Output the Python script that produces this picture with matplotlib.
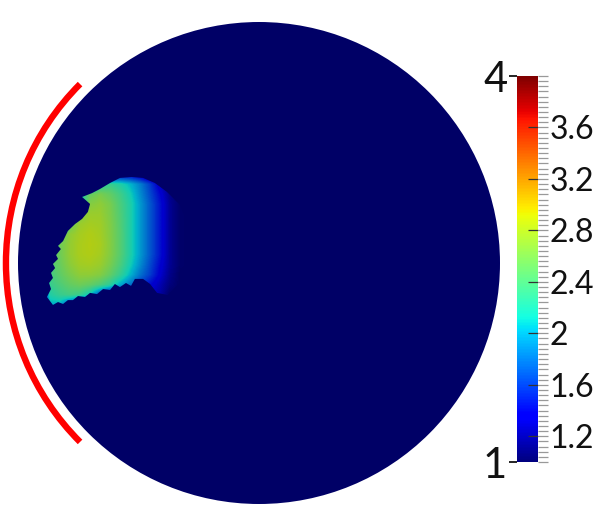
import numpy as np
import matplotlib
matplotlib.use("Agg")
import matplotlib.pyplot as plt
from matplotlib.patches import Circle, Arc, Polygon
from matplotlib.colors import Normalize, ListedColormap
from matplotlib.colorbar import ColorbarBase

plt.rcParams['font.family'] = ['Lato', 'DejaVu Sans']

# scalar range of the field
vmin, vmax = 1.0, 4.0

# outline of the raised region, in disk coordinates (disk radius = 1)
blob_x = [-0.734, -0.693, -0.660, -0.618, -0.577, -0.527, -0.481, -0.432, -0.382,
          -0.328, -0.286, -0.286, -0.320, -0.378,
          -0.423, -0.452, -0.481, -0.515, -0.531, -0.552, -0.577, -0.598, -0.618,
          -0.647, -0.672, -0.701, -0.722, -0.751, -0.772, -0.793, -0.813, -0.834,
          -0.855, -0.880, -0.863, -0.871, -0.855, -0.863, -0.846, -0.855, -0.834,
          -0.842, -0.822, -0.834, -0.813, -0.793, -0.763, -0.734, -0.710, -0.701]
blob_y = [0.274, 0.290, 0.307, 0.332, 0.353, 0.357, 0.353, 0.332, 0.295,
          0.241, 0.137, 0.012, -0.071, -0.133,
          -0.124, -0.087, -0.066, -0.066, -0.095, -0.083, -0.100, -0.087, -0.112,
          -0.108, -0.129, -0.124, -0.141, -0.137, -0.154, -0.154, -0.170, -0.162,
          -0.174, -0.141, -0.108, -0.083, -0.062, -0.041, -0.021, -0.004, 0.017,
          0.033, 0.058, 0.071, 0.091, 0.133, 0.162, 0.183, 0.212, 0.245]

# coarse samples of the field over the region (rows top -> bottom)
blob_extent = [-0.929, -0.266, -0.237, 0.386]
blob_values = [
    [1.0, 1.0, 1.0, 1.0, 1.0, 1.0, 1.0, 1.0, 1.3, 1.3, 1.2, 1.0, 1.0, 1.0, 1.0, 1.0],
    [1.0, 1.0, 1.0, 1.0, 1.0, 1.6, 2.2, 2.3, 2.2, 2.05, 1.85, 1.6, 1.3, 1.05, 1.0, 1.0],
    [1.0, 1.0, 1.0, 1.0, 2.2, 2.5, 2.6, 2.5, 2.35, 2.15, 1.9, 1.65, 1.4, 1.12, 1.0, 1.0],
    [1.0, 1.0, 1.0, 1.0, 2.0, 2.65, 2.7, 2.6, 2.4, 2.2, 1.95, 1.7, 1.45, 1.15, 1.02, 1.0],
    [1.0, 1.0, 1.0, 1.6, 2.6, 2.75, 2.75, 2.62, 2.42, 2.2, 1.95, 1.7, 1.45, 1.15, 1.02, 1.0],
    [1.0, 1.0, 1.0, 2.5, 2.75, 2.8, 2.78, 2.64, 2.44, 2.2, 1.95, 1.7, 1.45, 1.15, 1.02, 1.0],
    [1.0, 1.0, 2.45, 2.7, 2.8, 2.85, 2.8, 2.65, 2.45, 2.2, 1.95, 1.7, 1.45, 1.15, 1.02, 1.0],
    [1.0, 1.8, 2.55, 2.72, 2.82, 2.86, 2.82, 2.66, 2.45, 2.2, 1.95, 1.7, 1.45, 1.15, 1.02, 1.0],
    [1.0, 2.4, 2.55, 2.72, 2.82, 2.85, 2.8, 2.65, 2.45, 2.2, 1.95, 1.7, 1.45, 1.15, 1.02, 1.0],
    [1.0, 2.4, 2.52, 2.68, 2.78, 2.8, 2.75, 2.6, 2.4, 2.15, 1.9, 1.65, 1.4, 1.15, 1.02, 1.0],
    [1.0, 2.35, 2.48, 2.6, 2.7, 2.7, 2.65, 2.5, 2.3, 2.05, 1.8, 1.6, 1.35, 1.12, 1.0, 1.0],
    [1.0, 2.3, 2.4, 2.5, 2.55, 2.5, 2.4, 2.25, 2.0, 1.8, 1.6, 1.4, 1.25, 1.08, 1.0, 1.0],
    [1.0, 2.2, 2.3, 2.35, 2.3, 2.1, 1.6, 1.3, 1.2, 1.2, 1.25, 1.3, 1.2, 1.0, 1.0, 1.0],
    [1.0, 2.0, 2.0, 1.6, 1.3, 1.0, 1.0, 1.0, 1.0, 1.0, 1.0, 1.0, 1.0, 1.0, 1.0, 1.0],
    [1.0, 1.0, 1.0, 1.0, 1.0, 1.0, 1.0, 1.0, 1.0, 1.0, 1.0, 1.0, 1.0, 1.0, 1.0, 1.0],
]

# boundary segment marked in red (degrees)
arc_start, arc_end = 135, 225

cbar_ticks = [1.2, 1.6, 2.0, 2.4, 2.8, 3.2, 3.6]
cbar_labels = ['1.2', '1.6', '2', '2.4', '2.8', '3.2', '3.6']

# shaded jet for the lit surface
jet = plt.get_cmap('jet')
shade = 0.8
surf_cmap = ListedColormap(jet(np.linspace(0, 1, 256))[:, :3] * shade)
norm = Normalize(vmin, vmax)

fig = plt.figure(figsize=(5.98, 5.26), dpi=100)
ax = fig.add_axes([0, 0, 1, 1])
ax.set_xlim(-259 / 241, 339 / 241)
ax.set_ylim(-263 / 241, 263 / 241)
ax.set_aspect('equal')
ax.axis('off')

disk = Circle((0, 0), 1.0, facecolor=surf_cmap(norm(vmin)), edgecolor='none', zorder=1)
ax.add_patch(disk)

outline = Polygon(np.column_stack([blob_x, blob_y]), closed=True,
                  facecolor='none', edgecolor='none')
ax.add_patch(outline)
im = ax.imshow(np.array(blob_values), cmap=surf_cmap, norm=norm,
               extent=blob_extent, origin='upper', interpolation='bilinear',
               zorder=2)
im.set_clip_path(outline)

ax.add_patch(Arc((0, 0), 2.1, 2.1, theta1=arc_start, theta2=arc_end,
                 color='#ff0000', lw=4.6, capstyle='butt', zorder=3))

# colour legend
cax = fig.add_axes([517 / 598, 64 / 526, 21 / 598, 386 / 526])
cb = ColorbarBase(cax, cmap=jet, norm=norm, orientation='vertical')
cb.outline.set_visible(False)
cax.yaxis.remove_overlapping_locs = False
cax.yaxis.set_ticks_position('right')
cax.set_yticks(cbar_ticks)
cax.set_yticklabels(cbar_labels)
cax.set_yticks(np.arange(1.0, 4.001, 0.04), minor=True)
cax.tick_params(axis='y', which='major', direction='in', length=7, width=0.9,
                color='#333333', labelsize=23, pad=8, labelcolor='#111111')
cax.tick_params(axis='y', which='minor', direction='out', length=7, width=0.9,
                color='#999999')

sec = cax.secondary_yaxis('left')
sec.set_yticks([vmin, vmax])
sec.set_yticklabels(['1', '4'])
sec.tick_params(axis='y', length=6, width=1.2, labelsize=30, pad=1,
                labelcolor='#111111')
sec.spines['left'].set_visible(False)
ticks = sec.yaxis.get_major_ticks()
ticks[0].tick1line.set_color('#6f6fd0')
ticks[1].tick1line.set_color('#d08080')

fig.savefig('out.png', dpi=100)
